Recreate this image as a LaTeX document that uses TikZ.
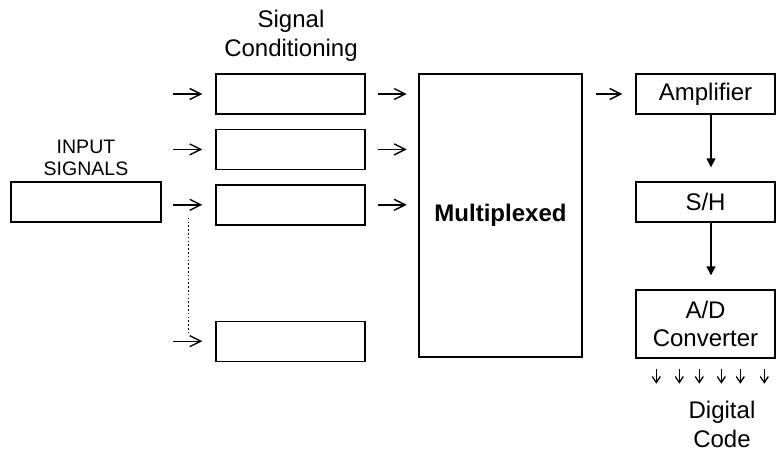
\documentclass[tikz,border=0pt]{standalone}
\usepackage{fontspec}
\setmainfont{Liberation Sans}
\usetikzlibrary{positioning, arrows.meta}

\begin{document}
\begin{tikzpicture}[x=1pt, y=-1pt, line width=1.4pt,
    every node/.style={node distance=14pt, rectangle, inner sep=0pt, font=\fontsize{24}{28.5}\selectfont},
    box/.style={draw, minimum width=149pt, minimum height=40pt},
    rbox/.style={draw, minimum width=139pt, minimum height=40pt, align=center},
    arr/.style={-{Straight Barb[length=11pt, width=11pt]}},
    down/.style={-{Triangle[length=9pt, width=9pt]}},
    bit/.style={line width=1.3pt, -{Straight Barb[length=6pt, width=8pt]}}]

    \useasboundingbox (0,0) rectangle (777,453);

    \node[box, minimum width=150pt] (inp) at (86,202) {};
    \node[align=center, font=\fontsize{19.5}{22}\selectfont] (inlbl) at (86,158) {INPUT\\SIGNALS};

    \node[box] (sc1) at (290.5,94) {};
    \node[box, below=of sc1] (sc2) {};
    \node[box, below=of sc2] (sc3) {};
    \node[box, below=95pt of sc3] (sc4) {};
    \node[align=center] (sclbl) at (291,36) {Signal\\Conditioning};

    \node[draw, minimum width=163pt, minimum height=283pt, font=\fontsize{24}{28.5}\selectfont\bfseries] (mux) at (500.5,215.5) {Multiplexed};

    \node[rbox] (amp) at (705.5,94) {Amplifier};
    \node[rbox] (sh) at (705.5,202) {S/H};
    \node[rbox, minimum height=68pt] (adc) at (705.5,324) {A/D\\Converter};
    \node[align=center] (code) at (722,424.5) {Digital\\Code};

    \foreach \i in {1,...,4}
        \draw[arr] ([xshift=-42pt]sc\i.west) -- ([xshift=-13pt]sc\i.west);
    \foreach \i in {1,2,3}
        \draw[arr] ([xshift=12pt]sc\i.east) -- ([xshift=41pt]sc\i.east);

    \coordinate (tap3) at ([xshift=-27pt, yshift=-13pt]sc3.west);
    \coordinate (tap4) at ([xshift=-27pt, yshift=9pt]sc4.west);
    \draw[line width=1.5pt, dash pattern=on 1.5pt off 2.3pt] (tap3) -- (tap4);

    \draw[arr] ([xshift=13pt]mux.east |- amp.west) -- ([xshift=-13pt]amp.west);
    \draw[down] ([xshift=5.5pt]amp.south) -- ([xshift=5.5pt, yshift=14pt]sh.north);
    \draw[down] ([xshift=5.5pt]sh.south) -- ([xshift=5.5pt, yshift=14pt]adc.north);

    \foreach \x in {21,44,64,86,105,129}
        \draw[bit] ([xshift=\x pt, yshift=-10pt]adc.south west) -- ([xshift=\x pt, yshift=-25pt]adc.south west);
\end{tikzpicture}
\end{document}
